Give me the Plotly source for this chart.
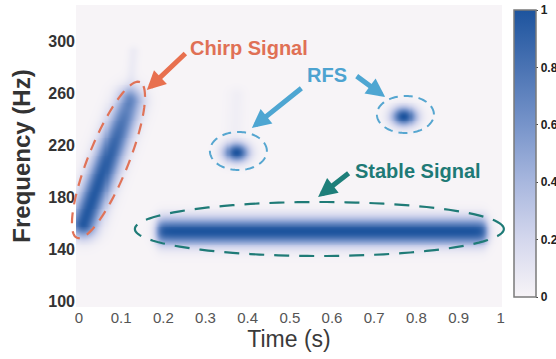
import numpy as np
import plotly.graph_objects as go

# ---------------- data ----------------
T_RANGE = [-0.007, 1.003]
F_RANGE = [95.4, 327.7]
x_ticks = [0, 0.1, 0.2, 0.3, 0.4, 0.5, 0.6, 0.7, 0.8, 0.9, 1]
x_tick_labels = ["0", "0.1", "0.2", "0.3", "0.4", "0.5", "0.6", "0.7", "0.8", "0.9", "1"]
y_ticks = [100, 140, 180, 220, 260, 300]
y_tick_labels = ["100", "140", "180", "220", "260", "300"]
cbar_ticks = [0, 0.2, 0.4, 0.6, 0.8, 1]
cbar_tick_labels = ["0", "0.2", "0.4", "0.6", "0.8", "1"]

# stable tone component
stable_freq = 153.8
stable_time = [0.185, 0.965]
stable_bw = 7.0
# chirp component (start/end of ridge)
chirp_time = [0.010, 0.120]
chirp_freq = [160.0, 254.0]
chirp_tail_time = [0.118, 0.128]
chirp_tail_freq = [253.0, 292.0]
# RFS components
rfs_time = [0.372, 0.770]
rfs_freq = [214.6, 242.3]
rfs_amp = [1.0, 1.0]
# faint ghost above first RFS
ghost_time = [0.368, 0.372]
ghost_freq = [228.0, 258.0]

# ---------------- layout geometry ----------------
W, H = 556, 359
ML, MR, MT, MB = 76, 54, 5, 52
PW, PH = W - ML - MR, H - MT - MB
SX = PW / (T_RANGE[1] - T_RANGE[0])   # px per second
SY = PH / (F_RANGE[1] - F_RANGE[0])   # px per Hz

# ---------------- build TF map ----------------
t = np.linspace(T_RANGE[0], T_RANGE[1], 420)
f = np.linspace(F_RANGE[0], F_RANGE[1], 320)
TT, FF = np.meshgrid(t, f)
X, Y = TT * SX, FF * SY


def logistic(v, s):
    return 1.0 / (1.0 + np.exp(-v / s))


def capsule(t0, f0, t1, f1, sig_px, fade=0.0):
    p0 = np.array([t0 * SX, f0 * SY])
    p1 = np.array([t1 * SX, f1 * SY])
    d = p1 - p0
    L2 = d @ d
    u = np.clip(((X - p0[0]) * d[0] + (Y - p0[1]) * d[1]) / L2, 0, 1)
    cx = p0[0] + u * d[0]
    cy = p0[1] + u * d[1]
    dist2 = (X - cx) ** 2 + (Y - cy) ** 2
    return np.exp(-0.5 * dist2 / sig_px ** 2) * (1.0 - fade * u ** 3)


z = np.zeros_like(TT)
z += (logistic(TT - stable_time[0], 0.006) * logistic(stable_time[1] - TT, 0.006)
      * np.exp(-0.5 * ((FF - stable_freq) / stable_bw) ** 2))
z += 0.97 * capsule(chirp_time[0], chirp_freq[0], chirp_time[1], chirp_freq[1], 9.5, fade=0.35)
z += 0.06 * capsule(chirp_tail_time[0], chirp_tail_freq[0], chirp_tail_time[1], chirp_tail_freq[1], 4.0)
for tc, fc, a in zip(rfs_time, rfs_freq, rfs_amp):
    z += a * np.exp(-0.5 * (((TT - tc) * SX / 8.5) ** 2 + ((FF - fc) * SY / 6.5) ** 2))
z += 0.04 * capsule(ghost_time[0], ghost_freq[0], ghost_time[1], ghost_freq[1], 6.0)
z = np.clip(z, 0, 1)

colorscale = [[0.0, "#f7f4f7"], [0.2, "#d4d7ed"], [0.4, "#a8b7de"],
              [0.6, "#7794ca"], [0.8, "#4a73b3"], [1.0, "#1d549e"]]

fig = go.Figure()
fig.add_trace(go.Heatmap(
    x=t, y=f, z=z, zmin=0, zmax=1, zsmooth="best", colorscale=colorscale,
    colorbar=dict(
        x=(514 - ML) / PW, xanchor="left", y=(MT + PH - 153.5) / PH, yanchor="middle",
        xpad=0, ypad=0,
        thickness=22, thicknessmode="pixels", len=287, lenmode="pixels",
        outlinewidth=1.5, outlinecolor="#7a7a7a",
        ticks="outside", ticklen=2, tickcolor="#444", tickwidth=1,
        tickvals=cbar_ticks, ticktext=cbar_tick_labels,
        tickfont=dict(family="Liberation Sans, Arial", size=12, color="#222", weight="bold"),
    ),
    showscale=True, hoverinfo="skip",
))


# ---------------- ellipses ----------------
def to_paper(tc, fc):
    return ((tc - T_RANGE[0]) / (T_RANGE[1] - T_RANGE[0]),
            (fc - F_RANGE[0]) / (F_RANGE[1] - F_RANGE[0]))


def ellipse_path(tc, fc, a_px, b_px, ang_deg, n=120):
    cx, cy = to_paper(tc, fc)
    th = np.linspace(0, 2 * np.pi, n)
    ang = np.deg2rad(ang_deg)
    dx = a_px * np.cos(th) * np.cos(ang) - b_px * np.sin(th) * np.sin(ang)
    dy = a_px * np.cos(th) * np.sin(ang) + b_px * np.sin(th) * np.cos(ang)
    xs = cx + dx / PW
    ys = cy + dy / PH
    pts = " L ".join(f"{x:.5f},{y:.5f}" for x, y in zip(xs, ys))
    return "M " + pts + " Z"


ellipses = [
    # t, f, a_px, b_px, angle, color, dash, width
    (0.070, 208.5, 84, 20, 68, "#e07358", "11px,8px", 2.2),
    (0.378, 215.4, 28.5, 19, 0, "#56a6d0", "9px,6px", 2.0),
    (0.774, 243.5, 28.5, 18.5, 0, "#56a6d0", "9px,6px", 2.0),
    (0.570, 155.4, 184.5, 27, 0, "#1f7b77", "15px,10px", 2.2),
]
for tc, fc, a, b, ang, col, dash, w in ellipses:
    fig.add_shape(type="path", xref="paper", yref="paper",
                  path=ellipse_path(tc, fc, a, b, ang),
                  line=dict(color=col, width=w, dash=dash), layer="above")

# ---------------- arrows & labels ----------------
arrows = [
    (0.161, 262.3, 40, -38, "#e8704f"),
    (0.410, 233.1, 51, -41, "#4ea6d2"),
    (0.726, 256.9, -30, -22, "#4ea6d2"),
    (0.567, 180.0, 32, -25, "#1e7f7a"),
]
for tx, fy, ax, ay, col in arrows:
    fig.add_annotation(x=tx, y=fy, xref="x", yref="y", text="", showarrow=True,
                       ax=ax, ay=ay, arrowhead=2, arrowsize=0.75, arrowwidth=5,
                       arrowcolor=col, standoff=0)

labels = [
    ("Chirp Signal", 0.403, 294.6, "#e07055"),
    ("RFS", 0.589, 273.8, "#4da3d0"),
    ("Stable Signal", 0.805, 200.0, "#1e7a76"),
]
for txt, tx, fy, col in labels:
    fig.add_annotation(x=tx, y=fy, xref="x", yref="y", text=txt, showarrow=False,
                       font=dict(family="Liberation Sans, Arial", size=20, color=col, weight="bold"))

fig.update_layout(
    width=W, height=H, margin=dict(l=ML, r=MR, t=MT, b=MB, autoexpand=False),
    paper_bgcolor="white", plot_bgcolor="#f7f4f7",
    xaxis=dict(range=T_RANGE, tickvals=x_ticks, ticktext=x_tick_labels,
               showgrid=False, zeroline=False, showline=False, ticks="",
               tickfont=dict(family="Liberation Sans, Arial", size=15, color="#555"),
               title=dict(text="Time (s)", standoff=4,
                          font=dict(family="Liberation Sans, Arial", size=23, color="#3a3a3a"))),
    yaxis=dict(range=F_RANGE, tickvals=y_ticks, ticktext=y_tick_labels,
               showgrid=False, zeroline=False, showline=False, ticks="",
               tickfont=dict(family="Liberation Sans, Arial", size=16, color="#333", weight="bold"),
               title=dict(text="Frequency (Hz)", standoff=10,
                          font=dict(family="Liberation Sans, Arial", size=24, color="#333", weight="bold"))),
    showlegend=False,
)

fig.write_html("out.html")
